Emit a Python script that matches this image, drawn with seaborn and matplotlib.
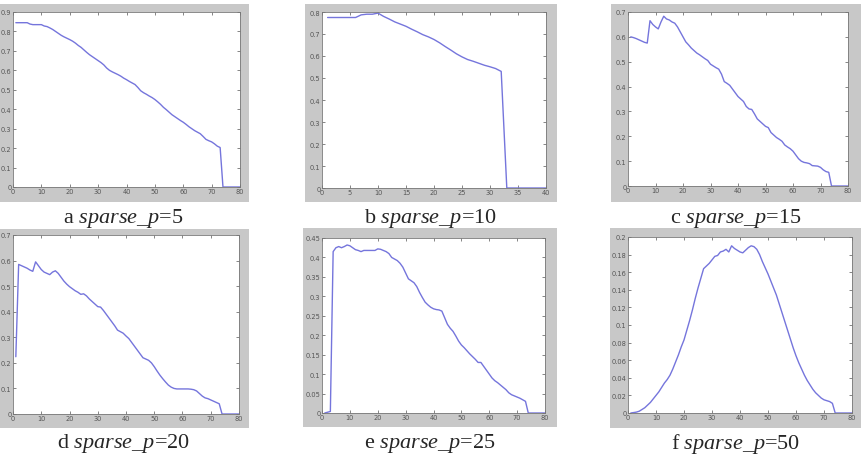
import numpy as np
import matplotlib
matplotlib.use('Agg')
import matplotlib.pyplot as plt
import seaborn as sns
from matplotlib.patches import Rectangle
from matplotlib.ticker import FuncFormatter, MultipleLocator

# -- 数据 --
x80 = list(range(1, 81))
x40 = list(range(1, 41))

vals_a = [0.845, 0.845, 0.845, 0.845, 0.845, 0.838, 0.835, 0.835, 0.835, 0.835,
          0.828, 0.825, 0.818, 0.81, 0.80, 0.79, 0.78, 0.772, 0.765, 0.758,
          0.75, 0.74, 0.728, 0.718, 0.705, 0.692, 0.68, 0.67, 0.66, 0.65,
          0.64, 0.628, 0.612, 0.60, 0.592, 0.585, 0.578, 0.57, 0.56, 0.552,
          0.543, 0.535, 0.527, 0.512, 0.495, 0.485, 0.477, 0.468, 0.46, 0.45,
          0.438, 0.425, 0.41, 0.398, 0.385, 0.372, 0.362, 0.352, 0.342, 0.333,
          0.322, 0.31, 0.30, 0.29, 0.282, 0.274, 0.26, 0.245, 0.238, 0.232,
          0.222, 0.21, 0.203, 0.0, 0.0, 0.0, 0.0, 0.0, 0.0, 0.0]

vals_b = [0.775, 0.775, 0.775, 0.775, 0.775, 0.775, 0.787, 0.79, 0.79, 0.795,
          0.78, 0.768, 0.755, 0.745, 0.735, 0.722, 0.71, 0.697, 0.687, 0.675,
          0.66, 0.643, 0.627, 0.61, 0.596, 0.584, 0.576, 0.567, 0.558, 0.551,
          0.543, 0.53, 0.0, 0.0, 0.0, 0.0, 0.0, 0.0, 0.0, 0.0]

vals_c = [0.60, 0.597, 0.593, 0.588, 0.583, 0.578, 0.575, 0.665, 0.65, 0.64,
          0.632, 0.66, 0.683, 0.672, 0.668, 0.66, 0.655, 0.64, 0.62, 0.60,
          0.58, 0.568, 0.555, 0.545, 0.535, 0.528, 0.52, 0.512, 0.505, 0.49,
          0.483, 0.476, 0.47, 0.45, 0.42, 0.413, 0.405, 0.39, 0.375, 0.36,
          0.35, 0.34, 0.32, 0.31, 0.308, 0.29, 0.27, 0.26, 0.25, 0.24,
          0.235, 0.215, 0.205, 0.195, 0.188, 0.18, 0.165, 0.157, 0.15, 0.14,
          0.125, 0.11, 0.10, 0.095, 0.093, 0.09, 0.082, 0.081, 0.08, 0.075,
          0.065, 0.058, 0.055, 0.0, 0.0, 0.0, 0.0, 0.0, 0.0, 0.0]

vals_d = [0.224, 0.585, 0.58, 0.575, 0.57, 0.563, 0.558, 0.595, 0.58, 0.565,
          0.555, 0.55, 0.545, 0.555, 0.56, 0.55, 0.535, 0.52, 0.508, 0.498,
          0.49, 0.482, 0.476, 0.468, 0.47, 0.462, 0.45, 0.44, 0.43, 0.42,
          0.418, 0.405, 0.39, 0.375, 0.36, 0.345, 0.328, 0.322, 0.316, 0.305,
          0.295, 0.28, 0.265, 0.25, 0.235, 0.22, 0.215, 0.21, 0.20, 0.185,
          0.168, 0.152, 0.138, 0.125, 0.113, 0.105, 0.10, 0.098, 0.098, 0.098,
          0.098, 0.098, 0.097, 0.095, 0.09, 0.08, 0.07, 0.063, 0.06, 0.055,
          0.05, 0.045, 0.04, 0.0, 0.0, 0.0, 0.0, 0.0, 0.0, 0.0]

vals_e = [0.0, 0.002, 0.004, 0.415, 0.425, 0.428, 0.425, 0.428, 0.432, 0.43,
          0.425, 0.42, 0.418, 0.415, 0.418, 0.418, 0.418, 0.418, 0.418, 0.422,
          0.421, 0.418, 0.415, 0.41, 0.40, 0.396, 0.392, 0.385, 0.375, 0.36,
          0.345, 0.34, 0.335, 0.325, 0.31, 0.297, 0.285, 0.278, 0.272, 0.268,
          0.266, 0.265, 0.262, 0.245, 0.228, 0.218, 0.21, 0.198, 0.185, 0.175,
          0.168, 0.16, 0.152, 0.145, 0.138, 0.13, 0.13, 0.12, 0.11, 0.10,
          0.09, 0.083, 0.078, 0.072, 0.066, 0.06, 0.052, 0.047, 0.044, 0.041,
          0.038, 0.034, 0.03, 0.0, 0.0, 0.0, 0.0, 0.0, 0.0, 0.0]

vals_f = [0.0, 0.0005, 0.001, 0.002, 0.004, 0.006, 0.009, 0.012, 0.016, 0.02,
          0.024, 0.029, 0.034, 0.038, 0.043, 0.05, 0.058, 0.066, 0.075, 0.083,
          0.094, 0.105, 0.117, 0.13, 0.142, 0.153, 0.164, 0.167, 0.17, 0.174,
          0.178, 0.179, 0.183, 0.184, 0.186, 0.183, 0.19, 0.187, 0.185, 0.183,
          0.182, 0.185, 0.188, 0.19, 0.189, 0.186, 0.18, 0.172, 0.165, 0.158,
          0.15, 0.142, 0.134, 0.124, 0.114, 0.104, 0.094, 0.084, 0.074, 0.065,
          0.057, 0.05, 0.043, 0.037, 0.032, 0.027, 0.023, 0.02, 0.017, 0.015,
          0.014, 0.013, 0.011, 0.0, 0.0, 0.0, 0.0, 0.0, 0.0, 0.0]

letters = ['a', 'b', 'c', 'd', 'e', 'f']
sparse_p = [5, 10, 15, 20, 25, 50]
xs = [x80, x40, x80, x80, x80, x80]
ys = [vals_a, vals_b, vals_c, vals_d, vals_e, vals_f]
xmax = [80, 40, 80, 80, 80, 80]
xstep = [10, 5, 10, 10, 10, 10]
ymax = [0.9, 0.8, 0.7, 0.7, 0.45, 0.2]
ystep = [0.1, 0.1, 0.1, 0.1, 0.05, 0.02]

# -- 版式 (像素) --
W, H = 864, 456
# 灰色底框: x0, y0, x1, y1
bg_px = [(0, 5, 249, 203), (305, 5, 557, 203), (611, 5, 861, 203),
         (0, 230, 249, 429), (303, 229, 557, 428), (610, 229, 861, 429)]
ax_px = [(13, 13, 240, 188), (322, 13, 546, 189), (628, 13, 848, 187),
         (13, 236, 239, 415), (322, 239, 545, 414), (628, 238, 852, 414)]
cap_px = [(123, 218), (430, 218), (736, 218), (123, 444), (430, 444), (736, 444)]

sns.set_style("ticks")
plt.rcParams['mathtext.fontset'] = 'custom'
plt.rcParams['mathtext.rm'] = 'Liberation Serif'
plt.rcParams['mathtext.it'] = 'Liberation Serif:italic'

fig = plt.figure(figsize=(W / 100, H / 100), dpi=100)
fig.patch.set_facecolor('white')

fmt = FuncFormatter(lambda v, p: '%g' % round(v, 4))

for i in range(6):
    x0, y0, x1, y1 = bg_px[i]
    fig.add_artist(Rectangle((x0 / W, 1 - y1 / H), (x1 - x0) / W, (y1 - y0) / H,
                             transform=fig.transFigure, facecolor='#c8c8c8',
                             edgecolor='none', zorder=0))
    a0, b0, a1, b1 = ax_px[i]
    ax = fig.add_axes([a0 / W, 1 - b1 / H, (a1 - a0) / W, (b1 - b0) / H])
    ax.set_facecolor('white')
    sns.lineplot(x=xs[i], y=ys[i], ax=ax, color='#7575dc', linewidth=1.0)
    ax.set_xlim(0, xmax[i])
    ax.set_ylim(0, ymax[i])
    ax.xaxis.set_major_locator(MultipleLocator(xstep[i]))
    ax.yaxis.set_major_locator(MultipleLocator(ystep[i]))
    ax.yaxis.set_major_formatter(fmt)
    ax.set_xlabel('')
    ax.set_ylabel('')
    ax.tick_params(direction='in', length=2, width=0.5, labelsize=4.8,
                   colors='#555555', pad=1, top=True, right=True)
    for s in ax.spines.values():
        s.set_color('#777777')
        s.set_linewidth(0.6)
    cx, cy = cap_px[i]
    fig.text(cx / W, 1 - cy / H,
             letters[i] + r' $\mathit{sparse\_p}$=' + str(sparse_p[i]),
             ha='center', va='center', fontsize=16, family='Liberation Serif')

fig.savefig('out.png', dpi=100)
